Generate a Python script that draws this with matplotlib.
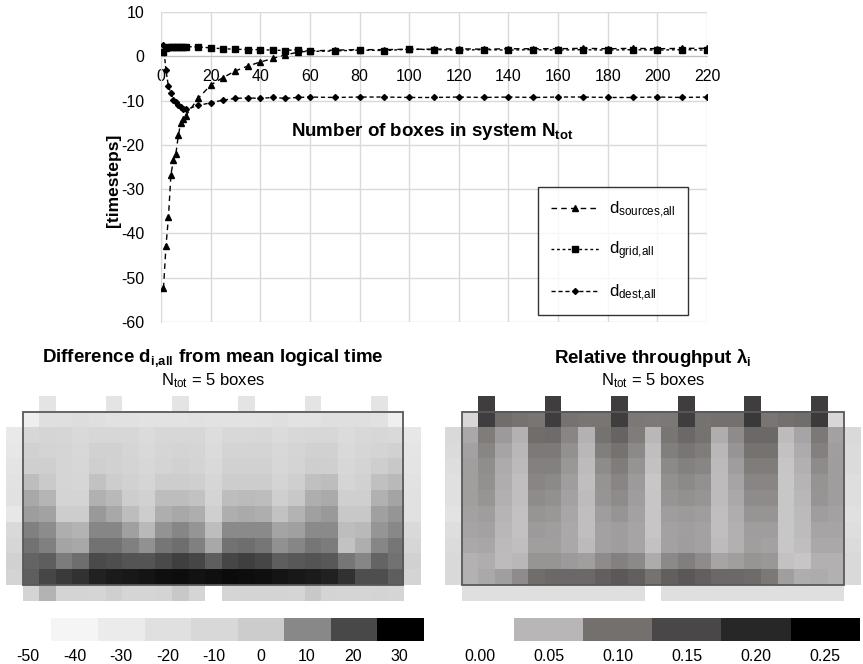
import numpy as np
import matplotlib
matplotlib.use("Agg")
import matplotlib.pyplot as plt
from matplotlib.colors import LinearSegmentedColormap, ListedColormap, Normalize
from matplotlib.patches import Rectangle

plt.rcParams['font.family'] = ['Liberation Sans', 'DejaVu Sans']
plt.rcParams['mathtext.default'] = 'regular'
plt.rcParams['axes.unicode_minus'] = False

nan = np.nan

# ---------------- line chart data ----------------
n_boxes = [1, 2, 3, 4, 5, 6, 7, 8, 9, 10, 15, 20, 25, 30, 35, 40, 45, 50, 55, 60,
           70, 80, 90, 100, 110, 120, 130, 140, 150, 160, 170, 180, 190, 200, 210, 220]
d_sources = [-52.4, -42.9, -36.3, -26.7, -23.5, -22.0, -17.8, -15.0, -14.2, -13.4,
             -9.5, -6.5, -4.8, -3.3, -2.2, -1.3, -0.5, 0.3, 0.9, 1.2,
             1.4, 1.5, 1.5, 1.6, 1.6, 1.7, 1.6, 1.7, 1.7, 1.7, 1.8, 1.7, 1.8, 1.7, 1.8, 1.8]
d_grid = [1.0, 1.9, 2.0, 2.1, 2.1, 2.1, 2.2, 2.2, 2.2, 2.2,
          2.1, 1.9, 1.7, 1.6, 1.5, 1.5, 1.4, 1.3, 1.5, 1.1,
          1.2, 1.4, 1.3, 1.6, 1.5, 1.4, 1.5, 1.4, 1.5, 1.4, 1.5, 1.4, 1.5, 1.4, 1.5, 1.4]
d_dest = [2.5, -3.2, -6.8, -8.3, -9.8, -10.3, -11.1, -11.4, -11.8, -12.0,
          -11.1, -10.5, -9.9, -9.5, -9.4, -9.5, -9.3, -9.5, -9.3, -9.2,
          -9.3, -9.2, -9.2, -9.3, -9.3, -9.2, -9.3, -9.2, -9.3, -9.2, -9.2, -9.3, -9.3, -9.2, -9.3, -9.2]

# ---------------- heatmap data (13 rows x 25 cols, NaN = no cell) ----------------
diff_grid = np.array([
    [nan, nan, -24, nan, nan, nan, -24, nan, nan, nan, -24, nan, nan, nan, -24, nan, nan, nan, -24, nan, nan, nan, -24, nan, nan],
    [nan, -33, -20, -20, -17, -20, -21, -21, -22, -22, -22, -21, -22, -22, -22, -21, -19, -22, -22, -19, -20, -20, -21, -35, nan],
    [-29, -10, -8, -9, -12, -10, -10, -10, -15, -10, -10, -10, -17, -11, -11, -10, -15, -11, -10, -10, -15, -11, -10, -12, -27],
    [-27, -5, -7, -8, -11, -5, -5, -8, -12, -8, -7, -8, -15, -7, -7, -7, -11, -8, -5, -5, -12, -9, -7, -5, -25],
    [-24, -3, -3, -8, -10, -3, -5, -7, -10, -7, -5, -7, -12, -5, -5, -5, -10, -7, -2, -3, -10, -7, -2, 0.5, -24],
    [-22, 2, 0.3, -8, -9, 1.3, -1, -5, -8, -1, -1, -3, -9, -1, -1, -1, -7, -3, 1.8, 2, -8, -5, 1.8, 2.8, -22],
    [-21, 5, 3.2, -7, -7, 3.8, 2.8, -1, -5, 2, 2, 1.3, -7, 2, 2.4, 2, -3, 0.6, 4.3, 4.7, -3, -3, 3.8, 5.7, -21],
    [-27, 6.8, 6.2, -1, -1, 7.2, 5, 2, -1, 4.3, 5, 4.3, -3, 4.3, 4.7, 4.3, 1.3, 3.5, 6.5, 7.2, 0.6, 0.6, 6.5, 8, -21],
    [-12, 11, 9.1, 4.3, 3.5, 10.2, 10.2, 6.5, 2.8, 8.2, 10.2, 8, 2, 9.4, 9.4, 9.4, 5.7, 6.5, 9.4, 9.4, 2, 2.8, 8, 9.7, -12],
    [-9, 13.3, 11, 5.7, 5.3, 13.3, 13.3, 11, 8.7, 12.5, 14, 11.2, 5, 13.3, 14, 12.8, 8.7, 10.2, 12.5, 11.7, 1.3, 4.3, 10.2, 12.5, -9],
    [-5, 15.6, 16.4, 11.7, 14, 19.5, 18.8, 18, 18, 19.5, 21, 20.3, 16.4, 20.3, 21, 20.3, 16.4, 17.2, 18, 17.2, 12.5, 10.2, 15.6, 13.3, -5],
    [-7, 16.4, 20.3, 21.7, 23, 25.1, 26.1, 26.5, 26.9, 27.5, 28.1, 27.2, 27.5, 28.3, 28.1, 27.5, 26.9, 26.5, 26.1, 25.1, 23, 18.8, 18.8, 16.4, -7],
    [nan, -7, 3.5, -7, -7, -8, -3, -8, -8, -7, 0.6, -8, nan, -8, -7, -7, -7, -8, 0.6, -7, -8, -8, -7, -8, nan],
])

throughput_grid = np.array([
    [nan, nan, 0.165, nan, nan, nan, 0.165, nan, nan, nan, 0.165, nan, nan, nan, 0.165, nan, nan, nan, 0.165, nan, nan, nan, 0.165, nan, nan],
    [nan, 0.028, 0.165, 0.103, 0.098, 0.096, 0.165, 0.098, 0.096, 0.096, 0.165, 0.094, 0.093, 0.094, 0.165, 0.098, 0.100, 0.100, 0.171, 0.096, 0.100, 0.103, 0.168, 0.028, nan],
    [0.026, 0.060, 0.091, 0.070, 0.053, 0.103, 0.105, 0.084, 0.053, 0.098, 0.115, 0.091, 0.049, 0.096, 0.109, 0.098, 0.056, 0.081, 0.109, 0.109, 0.046, 0.063, 0.094, 0.065, 0.026],
    [0.025, 0.065, 0.084, 0.063, 0.049, 0.093, 0.093, 0.077, 0.049, 0.089, 0.098, 0.082, 0.044, 0.089, 0.096, 0.091, 0.049, 0.074, 0.098, 0.098, 0.042, 0.058, 0.088, 0.067, 0.025],
    [0.023, 0.067, 0.079, 0.058, 0.047, 0.088, 0.088, 0.072, 0.046, 0.081, 0.091, 0.075, 0.042, 0.082, 0.088, 0.084, 0.047, 0.068, 0.091, 0.091, 0.040, 0.054, 0.081, 0.068, 0.025],
    [0.021, 0.067, 0.077, 0.056, 0.044, 0.084, 0.082, 0.068, 0.044, 0.075, 0.084, 0.070, 0.039, 0.077, 0.082, 0.077, 0.046, 0.063, 0.084, 0.084, 0.039, 0.051, 0.075, 0.068, 0.023],
    [0.021, 0.067, 0.074, 0.054, 0.044, 0.081, 0.077, 0.065, 0.046, 0.074, 0.081, 0.068, 0.040, 0.074, 0.077, 0.074, 0.046, 0.060, 0.081, 0.081, 0.039, 0.049, 0.074, 0.068, 0.023],
    [0.019, 0.065, 0.068, 0.051, 0.042, 0.074, 0.072, 0.061, 0.044, 0.068, 0.074, 0.065, 0.040, 0.068, 0.070, 0.068, 0.044, 0.056, 0.074, 0.074, 0.039, 0.047, 0.068, 0.065, 0.021],
    [0.023, 0.063, 0.065, 0.049, 0.042, 0.070, 0.068, 0.060, 0.044, 0.065, 0.068, 0.063, 0.040, 0.065, 0.067, 0.065, 0.044, 0.054, 0.068, 0.068, 0.039, 0.046, 0.063, 0.063, 0.023],
    [0.025, 0.060, 0.061, 0.047, 0.044, 0.067, 0.067, 0.060, 0.047, 0.065, 0.068, 0.063, 0.042, 0.065, 0.068, 0.065, 0.046, 0.054, 0.067, 0.065, 0.039, 0.044, 0.060, 0.060, 0.025],
    [0.026, 0.053, 0.056, 0.046, 0.049, 0.074, 0.074, 0.070, 0.067, 0.081, 0.088, 0.082, 0.058, 0.082, 0.089, 0.081, 0.063, 0.067, 0.074, 0.072, 0.042, 0.040, 0.054, 0.054, 0.026],
    [0.026, 0.053, 0.060, 0.067, 0.081, 0.103, 0.109, 0.109, 0.109, 0.121, 0.128, 0.121, 0.098, 0.121, 0.130, 0.121, 0.109, 0.109, 0.105, 0.094, 0.067, 0.056, 0.058, 0.054, 0.026],
    [nan, 0.022, 0.022, 0.022, 0.022, 0.022, 0.022, 0.022, 0.022, 0.022, 0.022, 0.022, nan, 0.022, 0.022, 0.022, 0.022, 0.022, 0.022, 0.022, 0.022, 0.022, 0.022, 0.022, nan],
])

# colour scales (value -> grey)
diff_levels = [-50, -40, -30, -20, -10, 0, 10, 20, 30]
diff_colors = ['#ffffff', '#f5f5f5', '#ebebeb', '#e0e0e0', '#d8d8d8', '#cccccc', '#888888', '#484848', '#000000']
tp_levels = [0.00, 0.05, 0.10, 0.15, 0.20, 0.25]
tp_colors = ['#ffffff', '#b8b6b7', '#73706e', '#4a4748', '#272727', '#000000']
diff_labels = ['-50', '-40', '-30', '-20', '-10', '0', '10', '20', '30']
tp_labels = ['0.00', '0.05', '0.10', '0.15', '0.20', '0.25']


def make_cmap(levels, colors):
    lo, hi = levels[0], levels[-1]
    pts = [((v - lo) / (hi - lo), c) for v, c in zip(levels, colors)]
    cm = LinearSegmentedColormap.from_list('grey_scale', pts)
    cm.set_bad((1, 1, 1, 0))
    return cm, Normalize(lo, hi)


W, H = 863, 664
fig = plt.figure(figsize=(W / 100, H / 100), dpi=100)


def px_axes(x0, y0, x1, y1):
    return fig.add_axes([x0 / W, 1 - y1 / H, (x1 - x0) / W, (y1 - y0) / H])


# ---------------- line chart ----------------
ax = px_axes(161, 12, 707, 322)
ax.set_xlim(0, 220)
ax.set_ylim(-60, 10)
ax.set_xticks(range(0, 221, 20))
ax.set_yticks(range(-60, 11, 10))
ax.grid(True, color='#d9d9d9', lw=1.0)
ax.set_axisbelow(True)
for s in ('top', 'right'):
    ax.spines[s].set_visible(False)
ax.spines['bottom'].set_position(('data', 0))
ax.spines['bottom'].set_color('#bfbfbf')
ax.spines['left'].set_color('#d9d9d9')
ax.tick_params(length=0, labelsize=11.5)
ax.tick_params(axis='x', pad=9)
ax.tick_params(axis='y', pad=12)

ax.plot(n_boxes, d_sources, color='black', lw=1.0, dashes=(4, 3), marker='^', ms=4.5,
        label='$d_{sources{,}all}$', zorder=3)
ax.plot(n_boxes, d_grid, color='black', lw=1.0, dashes=(2, 2), marker='s', ms=4,
        label='$d_{grid{,}all}$', zorder=3)
ax.plot(n_boxes, d_dest, color='black', lw=1.0, dashes=(3, 2), marker='D', ms=3,
        label='$d_{dest{,}all}$', zorder=3)

leg = ax.legend(loc='upper left', bbox_to_anchor=((538 - 161) / 546, (322 - 187) / 310),
                frameon=True, fancybox=False, edgecolor='black', fontsize=12,
                labelspacing=1.2, handlelength=2.9, borderpad=0.75, handletextpad=0.6,
                borderaxespad=0)
leg.get_frame().set_linewidth(1.0)

fig.text(432 / W, 1 - 131 / H, 'Number of boxes in system $N_{tot}$', ha='center', va='center',
         fontsize=13.5, fontweight='bold')
fig.text(114 / W, 1 - 180 / H, '[timesteps]', ha='center', va='center', rotation=90,
         fontsize=12.5, fontweight='bold')


# ---------------- heatmaps ----------------
def heatmap(x0, x1, data, levels, colors, title, cbx0, cbx1, labels):
    hax = px_axes(x0, 396, x1, 601)
    cm, norm = make_cmap(levels, colors)
    nr, nc = data.shape
    hax.imshow(np.ma.masked_invalid(data), cmap=cm, norm=norm, extent=(0, nc, nr, 0),
               aspect='auto', interpolation='nearest')
    hax.add_patch(Rectangle((1, 1), nc - 2, nr - 2, fill=False, edgecolor='#595959', lw=1.3))
    hax.set_xlim(0, nc)
    hax.set_ylim(nr, 0)
    hax.axis('off')
    cx = (x0 + x1) / 2
    fig.text(cx / W, 1 - 358 / H, title, ha='center', va='center', fontsize=13.5, fontweight='bold')
    fig.text(cx / W, 1 - 381 / H, '$N_{tot}$ = 5 boxes', ha='center', va='center', fontsize=12)

    cax = px_axes(cbx0, 618, cbx1, 641)
    n = len(colors)
    cax.imshow(np.arange(n)[None, :], cmap=ListedColormap(colors), extent=(0, n, 0, 1),
               aspect='auto', interpolation='nearest')
    cax.set_xticks(np.arange(n) + 0.5)
    cax.set_xticklabels(labels)
    cax.set_yticks([])
    for s in cax.spines.values():
        s.set_visible(False)
    cax.tick_params(length=0, labelsize=11.5, pad=6)


heatmap(6, 420, diff_grid, diff_levels, diff_colors,
        'Difference $d_{i{,}all}$ from mean logical time', 5, 423, diff_labels)
heatmap(445, 861, throughput_grid, tp_levels, tp_colors,
        'Relative throughput λ$_{i}$', 445, 859, tp_labels)

fig.savefig('out.png', dpi=100)
